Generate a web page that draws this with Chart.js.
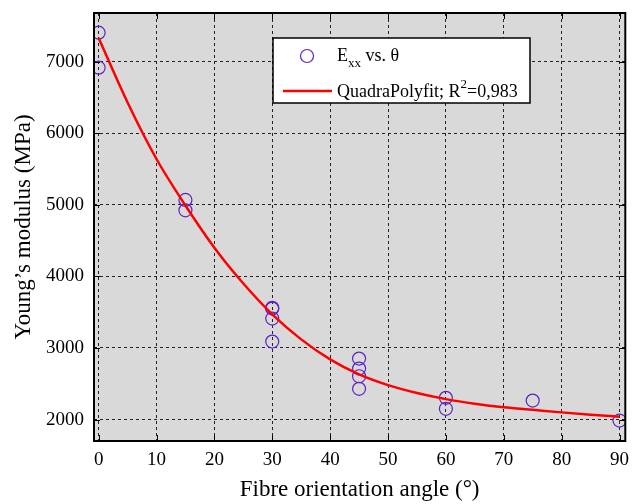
<!DOCTYPE html>
<html>
<head>
<meta charset="utf-8">
<script src="https://cdn.jsdelivr.net/npm/chart.js@4/dist/chart.umd.min.js"></script>
<style>
  body { margin: 0; background: #fff; }
</style>
</head>
<body>
<canvas id="myChart" width="633" height="504"></canvas>
<script>
// measured points (angle in degrees, modulus in MPa)
const angles = [0, 0, 15, 15, 30, 30, 30, 30, 45, 45, 45, 45, 60, 60, 75, 90];
const modulus = [7405, 6916, 5068, 4923, 3560, 3550, 3411, 3089, 2852, 2712, 2605, 2429, 2303, 2150, 2265, 1986];

// fitted curve
const fitAngles = [0, 5, 10, 15, 20, 25, 30, 35, 40, 45, 50, 55, 60, 65, 70, 75, 80, 85, 90];
const fitModulus = [7330, 6430, 5640, 4990, 4400, 3900, 3470, 3120, 2840, 2630, 2480, 2370, 2285, 2220, 2170, 2135, 2100, 2068, 2038];

const xTicks = [0, 10, 20, 30, 40, 50, 60, 70, 80, 90];
const yTicks = [2000, 3000, 4000, 5000, 6000, 7000];

const serif = "'Liberation Serif', 'Times New Roman', serif";
const purple = '#5b22c6';
const red = '#ff0000';

const plotBg = {
    id: 'plotBg',
    beforeDraw(chart) {
        const {ctx, chartArea: a} = chart;
        ctx.save();
        ctx.fillStyle = '#d9d9d9';
        ctx.fillRect(a.left, a.top, a.width, a.height);
        ctx.restore();
    }
};

const frame = {
    id: 'frame',
    afterDatasetsDraw(chart) {
        const {ctx, chartArea: a, scales} = chart;
        ctx.save();
        ctx.strokeStyle = '#000';
        ctx.lineWidth = 1;
        ctx.beginPath();
        xTicks.forEach(v => {
            const px = Math.round(scales.x.getPixelForValue(v)) + 0.5;
            ctx.moveTo(px, a.bottom); ctx.lineTo(px, a.bottom - 6);
            ctx.moveTo(px, a.top); ctx.lineTo(px, a.top + 6);
        });
        yTicks.forEach(v => {
            const py = Math.round(scales.y.getPixelForValue(v)) + 0.5;
            ctx.moveTo(a.left, py); ctx.lineTo(a.left + 6, py);
            ctx.moveTo(a.right, py); ctx.lineTo(a.right - 6, py);
        });
        ctx.stroke();
        ctx.lineWidth = 2;
        ctx.strokeRect(a.left, a.top, a.width, a.height);
        ctx.restore();
    }
};

// legend drawn by hand because of the sub/superscripts
const legendBox = {
    id: 'legendBox',
    afterDraw(chart) {
        const ctx = chart.ctx;
        const bx = 273, by = 38, bw = 257, bh = 65;
        ctx.save();
        ctx.fillStyle = '#fff';
        ctx.fillRect(bx, by, bw, bh);
        ctx.strokeStyle = '#000';
        ctx.lineWidth = 1.5;
        ctx.strokeRect(bx, by, bw, bh);

        // entry 1
        ctx.strokeStyle = purple;
        ctx.lineWidth = 1.2;
        ctx.beginPath();
        ctx.arc(307, 56, 6.5, 0, Math.PI * 2);
        ctx.stroke();

        ctx.fillStyle = '#000';
        ctx.textBaseline = 'alphabetic';
        let x = 337;
        ctx.font = '18px ' + serif;
        ctx.fillText('E', x, 61);
        x += ctx.measureText('E').width;
        ctx.font = '13px ' + serif;
        ctx.fillText('xx', x, 67);
        x += ctx.measureText('xx').width;
        ctx.font = '18px ' + serif;
        ctx.fillText(' vs. θ', x, 61);

        // entry 2
        ctx.strokeStyle = red;
        ctx.lineWidth = 2.5;
        ctx.beginPath();
        ctx.moveTo(283, 91);
        ctx.lineTo(332, 91);
        ctx.stroke();

        x = 337;
        ctx.font = '18px ' + serif;
        ctx.fillText('QuadraPolyfit; R', x, 97);
        x += ctx.measureText('QuadraPolyfit; R').width;
        ctx.font = '13px ' + serif;
        ctx.fillText('2', x, 88);
        x += ctx.measureText('2').width;
        ctx.font = '18px ' + serif;
        ctx.fillText('=0,983', x, 97);
        ctx.restore();
    }
};

const data = {
    datasets: [{
        label: 'Exx vs. θ',
        data: angles.map((a, i) => ({x: a, y: modulus[i]})),
        pointStyle: 'circle',
        pointRadius: 6.5,
        pointBorderWidth: 1.2,
        pointBorderColor: purple,
        pointBackgroundColor: 'rgba(0,0,0,0)',
        showLine: false,
        order: 1
    }, {
        label: 'QuadraPolyfit; R2=0,983',
        data: fitAngles.map((a, i) => ({x: a, y: fitModulus[i]})),
        showLine: true,
        borderColor: red,
        borderWidth: 2.5,
        pointRadius: 0,
        cubicInterpolationMode: 'monotone',
        order: 0
    }]
};

const config = {
    type: 'scatter',
    data: data,
    options: {
        responsive: false,
        animation: false,
        devicePixelRatio: 1,
        layout: {padding: {left: 0, right: 5, top: 13, bottom: 0}},
        plugins: {legend: {display: false}, tooltip: {enabled: false}},
        scales: {
            x: {
                type: 'linear',
                min: -0.8,
                max: 91,
                afterBuildTicks: s => { s.ticks = xTicks.map(v => ({value: v})); },
                afterFit: s => { s.height = 63; s.paddingLeft = 0; s.paddingRight = 0; },
                grid: {color: '#222', lineWidth: 1, drawTicks: false},
                border: {display: false, dash: [3, 3]},
                ticks: {color: '#000', padding: 8, maxRotation: 0, font: {family: serif, size: 19}},
                title: {display: true, text: 'Fibre orientation angle (°)', color: '#000', padding: {top: 0, bottom: 0}, font: {family: serif, size: 23}}
            },
            y: {
                type: 'linear',
                min: 1700,
                max: 7680,
                afterBuildTicks: s => { s.ticks = yTicks.map(v => ({value: v})); },
                afterFit: s => { s.width = 94; s.paddingTop = 0; s.paddingBottom = 0; },
                grid: {color: '#222', lineWidth: 1, drawTicks: false},
                border: {display: false, dash: [3, 3]},
                ticks: {color: '#000', padding: 10, font: {family: serif, size: 19}, callback: v => String(v)},
                title: {display: true, text: 'Young\u2019s modulus (MPa)', color: '#000', padding: {top: 10, bottom: 0}, font: {family: serif, size: 23}}
            }
        }
    },
    plugins: [plotBg, frame, legendBox]
};

const myChart = new Chart(
    document.getElementById('myChart'),
    config
);
</script>
</body>
</html>
